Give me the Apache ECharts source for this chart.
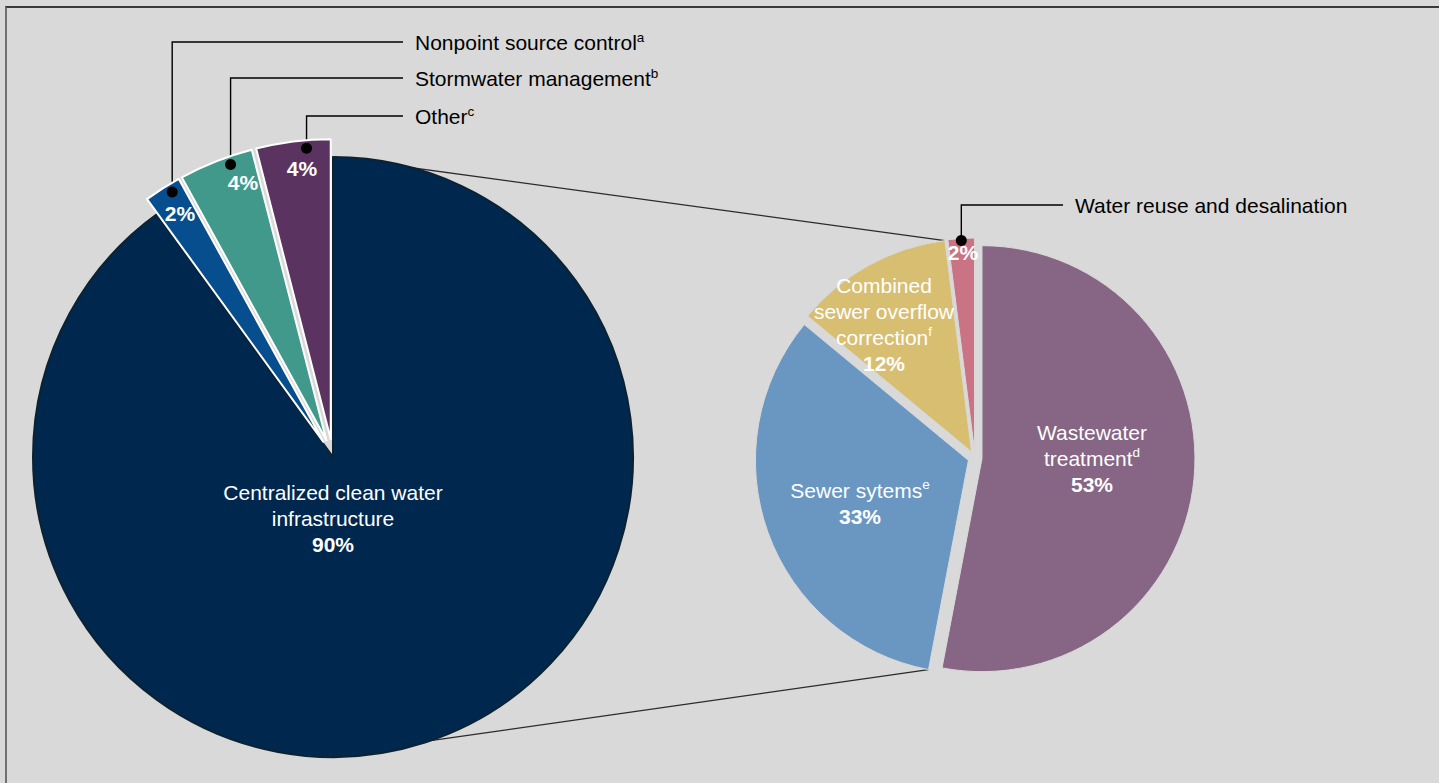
<!DOCTYPE html>
<html>
<head>
<meta charset="utf-8">
<script src="https://cdn.jsdelivr.net/npm/echarts@6/dist/echarts.min.js"></script>
<style>
html,body{margin:0;padding:0;background:#d9d9d9;overflow:hidden;width:1439px;height:783px}
#chart{position:absolute;left:0;top:0;width:1439px;height:783px}
#frame{position:absolute;left:5px;top:6px;width:1450px;height:800px;border-top:2px solid #3a3a3a;border-left:2px solid #707070;pointer-events:none}
</style>
</head>
<body>
<div id="chart"></div>
<div id="frame"></div>
<script>
// ---------- data ----------
const leftCategories = ['Centralized clean water infrastructure', 'Nonpoint source control', 'Stormwater management', 'Other'];
const leftValues = [90, 2, 4, 4];
const leftNotes = ['', 'a', 'b', 'c'];
const rightCategories = ['Wastewater treatment', 'Sewer sytems', 'Combined sewer overflow correction', 'Water reuse and desalination'];
const rightValues = [53, 33, 12, 2];
const rightNotes = ['d', 'e', 'f', ''];

// ---------- styles / layout ----------
const FONT = '"Liberation Sans", Arial, Helvetica, sans-serif';
const BG = '#d9d9d9';
const leftColors = ['#00284f', '#064e8e', '#41998b', '#5b3360'];
const rightColors = ['#866684', '#6a97c1', '#d8be71', '#c97384'];
const L = { center: [333, 457], radius: 300, offset: 18 };
const R = { center: [975, 458], radius: 213, offset: 7 };
const leftSelected = [false, true, true, true];
const rightSelected = [true, true, true, true];
// inner label wrapping (null -> percent only)
const leftWrap = [['Centralized clean water', 'infrastructure'], null, null, null];
const rightWrap = [['Wastewater', 'treatment'], ['Sewer sytems'], ['Combined', 'sewer overflow', 'correction'], null];
// inner label centres relative to pie centre
const leftInnerPos = [[0, 61], [-153, -244], [-90, -275], [-31, -289]];
const rightInnerPos = [[117, 0], [-115, 45], [-91, -134], [-12, -206]];
// outer (callout) labels
const leftOuter = { x: 415, y: [null, 42, 78, 116], anchorT: 0.67, anchorInset: 8 };
const rightOuter = { x: 1075, y: [null, null, null, 205], anchorT: 0.5, anchorInset: 2 };
const connectorLeftAngles = [0, 161];

// ---------- geometry helpers ----------
function polar(c, r, deg) {
  const a = deg * Math.PI / 180;
  return [c[0] + r * Math.sin(a), c[1] - r * Math.cos(a)];
}
function sliceAngles(values) {
  const total = values.reduce((a, b) => a + b, 0);
  let acc = 0;
  return values.map(v => {
    const s = acc / total * 360; acc += v; const e = acc / total * 360;
    return { start: s, end: e, mid: (s + e) / 2 };
  });
}
function sliceCenter(P, sl, sel) { return sel ? polar(P.center, P.offset, sl.mid) : P.center; }
const ls = sliceAngles(leftValues);
const rs = sliceAngles(rightValues);
function anchor(P, slices, selected, cfg, i) {
  const sl = slices[i];
  return polar(sliceCenter(P, sl, selected[i]), P.radius - cfg.anchorInset, sl.start + cfg.anchorT * (sl.end - sl.start));
}

const rich = {
  n: { fontFamily: FONT, fontSize: 21, color: '#fff', lineHeight: 26 },
  b: { fontFamily: FONT, fontSize: 21, fontWeight: 'bold', color: '#fff', lineHeight: 26 },
  s: { fontFamily: FONT, fontSize: 13.5, color: '#fff', lineHeight: 13, verticalAlign: 'top' },
  o: { fontFamily: FONT, fontSize: 21, color: '#000', lineHeight: 24 },
  os: { fontFamily: FONT, fontSize: 13.5, color: '#000', lineHeight: 13, verticalAlign: 'top' }
};

function innerFormatter(wraps, notes) {
  return function (p) {
    const w = wraps[p.dataIndex], note = notes[p.dataIndex];
    let s = '';
    if (w) {
      s = w.map((ln, k) => '{n|' + ln + '}' + (k === w.length - 1 && note ? '{s|' + note + '}' : '')).join('\n') + '\n';
    }
    return s + '{b|' + Math.round(p.percent) + '%}';
  };
}
function outerFormatter(notes) {
  return function (p) {
    const note = notes[p.dataIndex];
    return '{o|' + p.name + '}' + (note ? '{os|' + note + '}' : '');
  };
}

function buildData(cats, vals, colors, selected, borderColors, borderWidths) {
  return cats.map((c, i) => ({
    name: c, value: vals[i], selected: selected[i],
    itemStyle: { color: colors[i], borderColor: borderColors[i], borderWidth: borderWidths[i] }
  }));
}
function ghostData(cats, vals, showArr) {
  return cats.map((c, i) => ({
    name: c, value: vals[i],
    itemStyle: { color: 'rgba(0,0,0,0)', borderWidth: 0 },
    label: { show: !!showArr[i] },
    labelLine: { show: !!showArr[i] }
  }));
}

const leftData = buildData(leftCategories, leftValues, leftColors, leftSelected,
  ['#0c2230', '#ffffff', '#ffffff', '#ffffff'], [2, 2, 2, 2]);
const rightData = buildData(rightCategories, rightValues, rightColors, rightSelected,
  [BG, BG, BG, BG], [1, 1, 1, 1]);

function pieBase(P, data, selectable) {
  return {
    type: 'pie', center: P.center, radius: [0, P.radius], startAngle: 90, clockwise: true,
    selectedMode: selectable ? 'multiple' : false, selectedOffset: P.offset, silent: true, animation: false,
    emphasis: { disabled: true },
    data: data
  };
}
function innerLabelSeries(P, cats, vals, wraps, notes, pos) {
  return Object.assign(pieBase(P, ghostData(cats, vals, cats.map(() => true)), false), {
    z: 4,
    label: { show: true, position: 'inside', overflow: 'none', formatter: innerFormatter(wraps, notes), rich: rich },
    labelLine: { show: false },
    labelLayout: function (p) {
      const d = pos[p.dataIndex];
      return { x: P.center[0] + d[0], y: P.center[1] + d[1], align: 'center', verticalAlign: 'middle' };
    }
  });
}
function outerLabelSeries(P, cats, vals, notes, slices, selected, cfg) {
  return Object.assign(pieBase(P, ghostData(cats, vals, cfg.y.map(v => v != null)), false), {
    z: 2,
    label: { show: true, position: 'outside', overflow: 'none', formatter: outerFormatter(notes), rich: rich },
    labelLine: { show: true, lineStyle: { color: '#000', width: 1.4 } },
    labelLayout: function (p) {
      const y = cfg.y[p.dataIndex];
      if (y == null) return {};
      const a = anchor(P, slices, selected, cfg, p.dataIndex);
      return { x: cfg.x, y: y, align: 'left', verticalAlign: 'middle', width: 400,
        labelLinePoints: [a, [a[0], y], [cfg.x - 12, y]] };
    }
  });
}

const series = [
  Object.assign(pieBase(L, leftData, true), { z: 3, label: { show: false }, labelLine: { show: false } }),
  outerLabelSeries(L, leftCategories, leftValues, leftNotes, ls, leftSelected, leftOuter),
  innerLabelSeries(L, leftCategories, leftValues, leftWrap, leftNotes, leftInnerPos),
  Object.assign(pieBase(R, rightData, true), { z: 3, label: { show: false }, labelLine: { show: false } }),
  outerLabelSeries(R, rightCategories, rightValues, rightNotes, rs, rightSelected, rightOuter),
  innerLabelSeries(R, rightCategories, rightValues, rightWrap, rightNotes, rightInnerPos)
];

// connectors & anchor dots
const graphics = [];
const topLeft = polar(L.center, L.radius, connectorLeftAngles[0]);
const topRight = polar(sliceCenter(R, rs[2], rightSelected[2]), R.radius, rs[2].end);
const botLeft = polar(L.center, L.radius, connectorLeftAngles[1]);
const botRight = polar(sliceCenter(R, rs[1], rightSelected[1]), R.radius, rs[1].start);
[[topLeft, topRight], [botLeft, botRight]].forEach(pr => {
  graphics.push({ type: 'line', z: 1, silent: true,
    shape: { x1: pr[0][0], y1: pr[0][1], x2: pr[1][0], y2: pr[1][1] },
    style: { stroke: '#2b2b2b', lineWidth: 1.3 } });
});
[[L, ls, leftSelected, leftOuter], [R, rs, rightSelected, rightOuter]].forEach(g => {
  g[3].y.forEach((y, i) => {
    if (y == null) return;
    const a = anchor(g[0], g[1], g[2], g[3], i);
    graphics.push({ type: 'circle', z: 100, silent: true, shape: { cx: a[0], cy: a[1], r: 5.5 }, style: { fill: '#000' } });
  });
});

const chart = echarts.init(document.getElementById('chart'), null, { renderer: 'svg' });
chart.setOption({
  backgroundColor: BG,
  animation: false,
  textStyle: { fontFamily: FONT },
  graphic: { elements: graphics },
  series: series
});
</script>
</body>
</html>
